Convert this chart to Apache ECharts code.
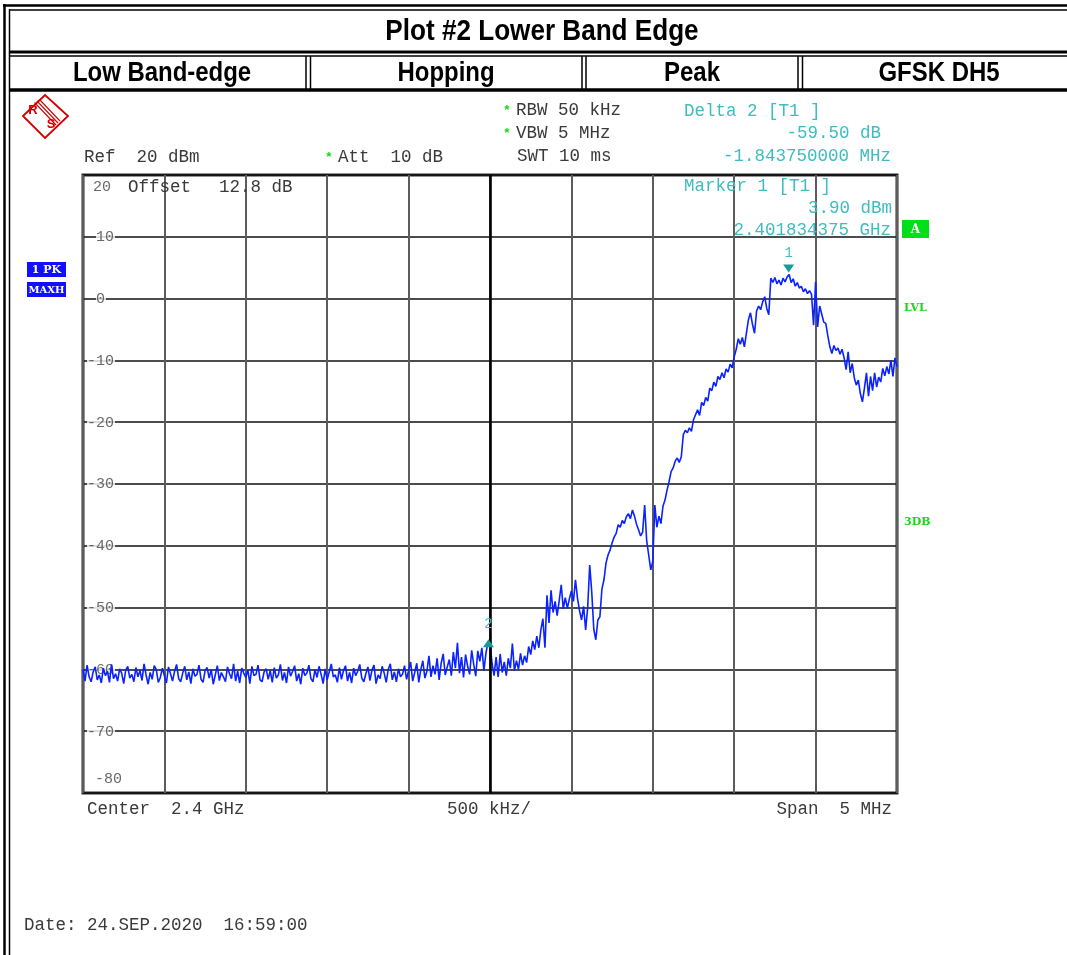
<!DOCTYPE html>
<html>
<head>
<meta charset="utf-8">
<script src="https://cdn.jsdelivr.net/npm/echarts/dist/echarts.min.js"></script>
<style>
  html, body { margin: 0; padding: 0; background: #fff; }
  #chart { width: 1067px; height: 955px; }
</style>
</head>
<body>
<div id="chart"></div>
<script>
// ---- Sweep definition (center 2.4 GHz, span 5 MHz) ----
const sweepStartMHz = 2397.5;
const sweepStopMHz = 2402.5;
const sweepStepMHz = 0.0125;
const gridStepMHz = 0.5;

// ---- Trace 1 (PK / MAXH) levels in dBm ----
const noiseFloorDbm = [
  -60.0, -61.9, -59.3, -61.2, -62.0, -60.4, -59.6, -61.7, -60.9, -62.2,
  -59.8, -61.0, -60.3, -62.1, -59.2, -61.5, -60.7, -61.9, -59.9, -60.6,
  -62.3, -60.1, -59.5, -61.4, -60.8, -62.0, -59.7, -61.2, -60.2, -61.8,
  -59.1, -60.9, -62.4, -60.5, -61.6, -59.4, -60.0, -62.1, -61.3, -59.8,
  -61.0, -62.2, -59.6, -60.7, -61.9, -60.3, -59.2, -61.5, -62.0, -60.6,
  -59.5, -61.7, -60.4, -62.3, -59.9, -61.1, -60.8, -59.3, -61.6, -62.1,
  -60.2, -59.7, -61.4, -60.0, -62.4, -60.9, -59.4, -61.8, -60.5, -61.2,
  -62.0, -59.6, -60.7, -61.5, -59.1, -61.9, -60.3, -62.2, -59.8, -60.6,
  -61.3, -60.1, -62.3, -59.5, -61.0, -60.8, -59.3, -61.7, -62.0, -60.4,
  -59.9, -61.6, -60.2, -62.1, -59.7, -61.4, -60.9, -59.2, -61.8, -60.5,
  -62.2, -59.6, -61.1, -60.3, -59.4, -61.9, -60.7, -62.4, -59.8, -61.0,
  -60.6, -59.3, -61.5, -62.0, -60.0, -61.3, -59.5, -60.8, -62.3, -59.9,
  -61.7, -60.4, -59.1, -61.2, -60.9, -62.1, -59.7, -61.6, -60.2, -59.4,
  -61.9, -60.5, -62.2, -59.8, -61.0, -60.3, -59.2, -61.4, -62.0, -60.7,
  -59.6, -61.8, -60.1, -59.3, -62.3, -60.9, -61.5, -59.5, -60.6, -62.1,
  -60.0, -59.1, -61.7, -60.4, -62.0, -59.9, -61.2, -60.8, -59.4, -61.6,
  -60.2, -58.8, -61.9, -60.5, -59.0, -62.1, -60.0, -58.6, -61.4, -60.3,
  -57.8, -61.2, -59.4, -60.8, -58.2, -61.7, -59.0, -57.5, -60.9, -59.6,
  -58.4, -61.0, -57.2, -59.8, -55.7, -60.6, -58.0, -61.3, -57.6, -59.5,
  -60.8, -56.9, -59.2, -61.1, -57.0, -58.7, -56.5, -60.2, -57.4, -55.6,
  -55.8
];
const signalRiseDbm = [
  -59.0, -61.0, -58.0, -61.2, -57.5, -60.5, -58.8, -61.0, -58.2, -59.8,
  -55.8, -60.2, -58.6, -60.0, -57.4, -59.3, -57.8, -58.9, -56.3, -57.6,
  -55.4, -56.8, -54.6, -56.5, -53.6, -51.8, -56.5, -48.0, -52.5, -47.2,
  -50.8, -49.0, -51.3, -48.9, -46.3, -50.2, -48.4, -50.1, -48.6, -47.3,
  -49.0, -45.5, -48.5, -50.5, -52.0, -49.8, -53.6, -50.0, -43.1, -47.5,
  -53.5, -55.2, -52.0, -51.5, -47.0, -45.5, -42.8, -41.5, -40.7, -39.5,
  -38.6, -38.0, -36.6, -37.0, -35.9, -36.4, -35.3, -34.8, -35.6, -34.2,
  -35.2, -36.5, -37.4, -38.4, -37.8, -33.4, -39.2, -41.5, -43.9, -42.5,
  -33.4, -37.0, -35.2, -36.4, -33.6, -32.6, -31.0, -29.6, -28.0, -27.4,
  -26.3, -25.8, -26.5, -25.6, -22.0, -21.3, -21.7, -20.9, -21.5, -19.6,
  -18.8, -18.0, -18.9, -16.8, -17.3, -16.0, -16.6, -14.5, -14.9, -13.5,
  -14.2, -12.6, -13.1, -12.0, -12.8, -11.4, -11.9, -10.6, -11.2, -9.4,
  -8.2, -6.5, -7.4, -6.3, -7.8, -5.6, -3.4, -2.3, -4.2, -5.6,
  -2.0, -1.2, -1.8, -0.5, 0.3, -1.6, -2.6, 3.3, 2.6, 3.4,
  2.4, 3.0, 2.2, 3.3, 2.7, 3.5, 3.9, 2.6, 3.2, 2.0,
  2.6, 1.7, 2.0, 1.1, 1.6, 0.8, 1.3, 0.7, -4.3, 2.7,
  -4.6, -1.2, -2.5, -3.8, -4.0, -6.0, -7.8, -8.9, -7.6, -8.4,
  -8.0, -9.0, -8.2, -9.6, -11.5, -8.6, -12.0, -10.5, -12.8, -14.0,
  -13.2, -15.4, -16.7, -14.5, -12.0, -15.8, -12.6, -14.9, -12.0, -14.3,
  -12.7, -13.5, -11.3, -12.5, -11.0, -12.2, -10.0, -12.6, -9.6, -11.0
];
const levelsDbm = noiseFloorDbm.concat(signalRiseDbm);

// ---- Level axis ----
const levelMin = -80;
const levelMax = 20;
const levelStep = 10;
const levelTickLabels = [10, 0, -10, -20, -30, -40, -50, -60, -70];

// ---- Markers ----
const marker1 = { name: '1', freqMHz: 2401.834375, level: 3.90 };
const marker2 = { name: '2', freqMHz: 2399.990625, level: -55.60 };
const centerFreqMHz = 2400;

// ---- Texts ----
const titleText = 'Plot #2 Lower Band Edge';
const headerCells = ['Low Band-edge', 'Hopping', 'Peak', 'GFSK DH5'];

const traceData = levelsDbm.map((v, i) => [sweepStartMHz + i * sweepStepMHz, v]);

const MONO = '"Liberation Mono", "DejaVu Sans Mono", monospace';
const GRAY = '#3a3a3a';
const CYAN = '#3fbcc0';
const GREEN = '#18d818';
const RED = '#d40000';

function ln(x1, y1, x2, y2, w, c) {
  return { type: 'line', silent: true, shape: { x1, y1, x2, y2 },
           style: { stroke: c || '#000', lineWidth: w } };
}
function tx(x, y, text, o) {
  o = o || {};
  return { type: 'text', silent: true, x, y, scaleX: o.scaleX || 1, rotation: o.rotation || 0, z: o.z || 10,
           style: { text, fill: o.fill || GRAY,
                    font: o.font || ('17.5px ' + MONO),
                    textAlign: o.align || 'left', align: o.align || 'left',
                    textVerticalAlign: 'middle', verticalAlign: 'middle' } };
}

const HDR = 'bold {s}px "Liberation Sans Narrow", "Liberation Sans", Arial, sans-serif';

const graphics = [
  // outer frame (double lines)
  ln(4.5, 4, 4.5, 955, 2.5), ln(9.5, 9, 9.5, 955, 1.5),
  ln(3, 5.5, 1067, 5.5, 2.5), ln(9, 10, 1067, 10, 1.5),
  // title row separator
  ln(9, 52, 1067, 52, 3), ln(9, 56, 1067, 56, 1.5),
  // header row bottom
  ln(9, 90, 1067, 90, 3.5),
  // column separators
  ln(306, 56, 306, 89, 1.5), ln(310.5, 56, 310.5, 89, 1.5),
  ln(582, 56, 582, 89, 1.5), ln(586, 56, 586, 89, 1.5),
  ln(798, 56, 798, 89, 1.5), ln(802.5, 56, 802.5, 89, 1.5),
  // header texts
  tx(542, 32, titleText, { font: HDR.replace('{s}', 30), fill: '#000', align: 'center', scaleX: 0.87 }),
  tx(162, 73, headerCells[0], { font: HDR.replace('{s}', 28), fill: '#000', align: 'center', scaleX: 0.855 }),
  tx(446, 73, headerCells[1], { font: HDR.replace('{s}', 28), fill: '#000', align: 'center', scaleX: 0.855 }),
  tx(692, 73, headerCells[2], { font: HDR.replace('{s}', 28), fill: '#000', align: 'center', scaleX: 0.855 }),
  tx(939, 73, headerCells[3], { font: HDR.replace('{s}', 28), fill: '#000', align: 'center', scaleX: 0.855 }),

  // R&S logo
  { type: 'polygon', silent: true, shape: { points: [[23, 116], [45, 95], [68, 116], [45, 138]] },
    style: { fill: 'none', stroke: RED, lineWidth: 1.8 } },
  ln(37, 101, 58, 123, 1.1, RED), ln(39.5, 99.5, 60, 121, 1.1, RED), ln(34.5, 102.5, 56, 125, 1.1, RED),
  tx(33, 110, 'R', { font: 'bold 13px "Liberation Sans", sans-serif', fill: RED, align: 'center' }),
  tx(51, 124, 'S', { font: 'bold 13px "Liberation Sans", sans-serif', fill: RED, align: 'center' }),

  // setting texts
  tx(507, 111, '*', { font: 'bold 13px ' + MONO, fill: GREEN, align: 'center' }),
  tx(516, 110, 'RBW 50 kHz'),
  tx(507, 134, '*', { font: 'bold 13px ' + MONO, fill: GREEN, align: 'center' }),
  tx(516, 133, 'VBW 5 MHz'),
  tx(517, 156, 'SWT 10 ms'),
  tx(84, 157, 'Ref  20 dBm'),
  tx(329, 158, '*', { font: 'bold 13px ' + MONO, fill: GREEN, align: 'center' }),
  tx(338, 157, 'Att  10 dB'),
  tx(128, 187, 'Offset'),
  tx(219, 187, '12.8 dB'),

  // marker readouts
  tx(684, 111, 'Delta 2 [T1 ]', { fill: CYAN }),
  tx(881, 133, '-59.50 dB', { fill: CYAN, align: 'right' }),
  tx(891, 156, '-1.843750000 MHz', { fill: CYAN, align: 'right' }),
  tx(684, 186, 'Marker 1 [T1 ]', { fill: CYAN }),
  tx(892, 208, '3.90 dBm', { fill: CYAN, align: 'right' }),
  tx(891, 230, '2.401834375 GHz', { fill: CYAN, align: 'right' }),

  // side indicators
  { type: 'rect', silent: true, shape: { x: 902, y: 220, width: 27, height: 18 }, style: { fill: '#00e01a' } },
  tx(915.5, 229.5, 'A', { font: 'bold 12px "DejaVu Serif", serif', fill: '#fff', align: 'center' }),
  { type: 'rect', silent: true, shape: { x: 27, y: 262, width: 39, height: 15 }, style: { fill: '#1010ff' } },
  tx(46.5, 270, '1 PK', { font: 'bold 11px "DejaVu Serif", serif', fill: '#fff', align: 'center' }),
  { type: 'rect', silent: true, shape: { x: 27, y: 282, width: 39, height: 15 }, style: { fill: '#1010ff' } },
  tx(46.5, 290, 'MAXH', { font: 'bold 10px "DejaVu Serif", serif', fill: '#fff', align: 'center' }),
  tx(904, 308, 'LVL', { font: 'bold 11px "DejaVu Serif", serif', fill: GREEN }),
  tx(904, 522, '3DB', { font: 'bold 11px "DejaVu Serif", serif', fill: GREEN }),

  // bottom texts
  tx(87, 809, 'Center  2.4 GHz'),
  tx(447, 809, '500 kHz/'),
  tx(892, 809, 'Span  5 MHz', { align: 'right' }),
  tx(24, 925, 'Date: 24.SEP.2020  16:59:00')
];

const labelData = levelTickLabels.map(v => [sweepStartMHz, v]);

const option = {
  animation: false,
  backgroundColor: '#fff',
  grid: { left: 83, top: 175, width: 814, height: 618, show: true,
          borderColor: '#2b2b2b', borderWidth: 3, backgroundColor: 'transparent' },
  xAxis: {
    type: 'value', min: sweepStartMHz, max: sweepStopMHz, interval: gridStepMHz,
    axisLine: { show: false }, axisTick: { show: false }, axisLabel: { show: false },
    splitLine: { show: true, lineStyle: { color: '#5c5c5c', width: 2 } }
  },
  yAxis: {
    type: 'value', min: levelMin, max: levelMax, interval: levelStep,
    axisLine: { show: false }, axisTick: { show: false }, axisLabel: { show: false },
    splitLine: { show: true, lineStyle: { color: '#111', width: 1.7 } }
  },
  graphic: { elements: graphics },
  series: [
    {
      type: 'scatter', z: 2, silent: true, symbolSize: 0,
      data: labelData,
      label: {
        show: true, position: 'right', distance: 4,
        formatter: p => p.value[1] < 0 ? '{n|' + p.value[1] + '}' : '{s|\u00a0}{n|' + p.value[1] + '}',
        rich: {
          n: { fontFamily: MONO, fontSize: 15, color: '#444', backgroundColor: '#fff', padding: [1, 1, 0, 0] },
          s: { fontFamily: MONO, fontSize: 15, color: '#444' }
        }
      }
    },
    {
      type: 'scatter', z: 2, silent: true, symbolSize: 0,
      data: [
        { value: [sweepStartMHz, levelMax], label: { offset: [6, 12] } },
        { value: [sweepStartMHz, levelMin], label: { offset: [8, -14] } }
      ],
      label: {
        show: true, position: 'right', distance: 4,
        formatter: p => String(p.value[1]),
        fontFamily: MONO, fontSize: 15, color: '#444'
      }
    },
    {
      type: 'line', z: 4, silent: true,
      data: traceData, showSymbol: false, symbol: 'none',
      lineStyle: { color: '#0a22ff', width: 1.6 },
      markLine: {
        silent: true, symbol: 'none', label: { show: false },
        lineStyle: { color: '#000', width: 2.6, type: 'solid' },
        data: [{ xAxis: centerFreqMHz }]
      },
      markPoint: {
        silent: true,
        data: [
          { coord: [marker1.freqMHz, marker1.level], symbol: 'triangle', symbolRotate: 180,
            symbolSize: [11, 8], symbolOffset: [0, -6], itemStyle: { color: '#189a9a' },
            label: { show: true, position: 'top', distance: 4, formatter: marker1.name,
                     color: CYAN, fontFamily: MONO, fontSize: 14 } },
          { coord: [marker2.freqMHz, marker2.level], symbol: 'triangle',
            symbolSize: [11, 8], symbolOffset: [0, 1], itemStyle: { color: '#189a9a' },
            label: { show: true, position: 'top', distance: 8, formatter: marker2.name,
                     color: CYAN, fontFamily: MONO, fontSize: 14 } }
        ]
      }
    }
  ]
};

const chart = echarts.init(document.getElementById('chart'), null, { renderer: 'canvas' });
chart.setOption(option);
</script>
</body>
</html>
